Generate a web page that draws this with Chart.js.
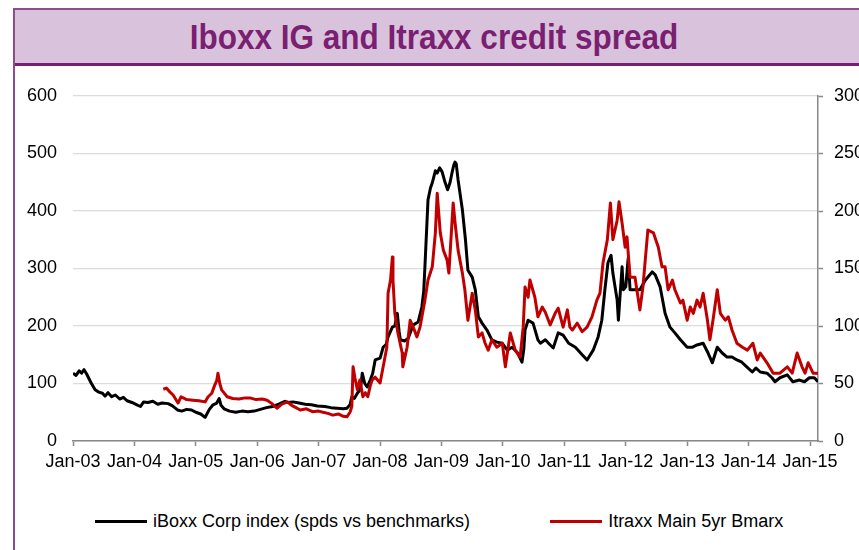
<!DOCTYPE html>
<html>
<head>
<meta charset="utf-8">
<title>Iboxx IG and Itraxx credit spread</title>
<script src="https://cdn.jsdelivr.net/npm/chart.js@4.4.0/dist/chart.umd.min.js"></script>
<style>
  html, body { margin: 0; padding: 0; overflow: hidden; background: #fff; }
  body { width: 859px; height: 550px; position: relative; font-family: "Liberation Sans", Arial, sans-serif; }
  #frame { position: absolute; left: 13px; top: 8px; width: 900px; height: 560px;
           border-left: 2px solid #8e4a8a; border-top: 2px solid #8e4a8a; }
  #banner { position: absolute; left: 15px; top: 10px; width: 900px; height: 53px;
            background: #d9c3dc; border-bottom: 3px solid #7b1f72; }
  #banner h1 { margin: 0; width: 838px; text-align: center; line-height: 53px;
               font-size: 35px; font-weight: bold; color: #7b1f72;
               transform: scaleX(0.9); transform-origin: 419px 50%; }
  #chart { position: absolute; left: 15px; top: 66px; }
  #legend { position: absolute; left: 95px; top: 511px; display: flex; align-items: center;
            font-size: 18px; color: #000; white-space: nowrap; }
  #legend .item { display: flex; align-items: center; }
  #legend .item + .item { margin-left: 80px; }
  #legend .swatch { width: 52px; height: 3px; margin-right: 6px; }
</style>
</head>
<body>
<div id="frame"></div>
<div id="banner"><h1>Iboxx IG and Itraxx credit spread</h1></div>
<canvas id="chart" width="880" height="420"></canvas>
<div id="legend"></div>
<script>
// iBoxx corporate spread (bp, left axis) - dates as decimal years
const iboxxDates = [
  2003.00, 2003.05, 2003.10, 2003.14, 2003.18, 2003.22, 2003.30, 2003.36, 2003.42, 2003.48,
  2003.52, 2003.57, 2003.63, 2003.69, 2003.76, 2003.82, 2003.88, 2003.96, 2004.04, 2004.10,
  2004.15, 2004.22, 2004.30, 2004.38, 2004.45, 2004.55, 2004.62, 2004.70, 2004.77, 2004.85,
  2004.93, 2005.00, 2005.08, 2005.15, 2005.22, 2005.28, 2005.34, 2005.38, 2005.41, 2005.46,
  2005.55, 2005.65, 2005.75, 2005.85, 2005.95, 2006.05, 2006.15, 2006.25, 2006.35, 2006.45,
  2006.50, 2006.58, 2006.68, 2006.78, 2006.88, 2006.98, 2007.10, 2007.20, 2007.30, 2007.40,
  2007.46, 2007.51, 2007.54, 2007.58, 2007.63, 2007.68, 2007.71, 2007.75, 2007.79, 2007.84,
  2007.88, 2007.92, 2008.00, 2008.05, 2008.10, 2008.13, 2008.20, 2008.24, 2008.28, 2008.31,
  2008.33, 2008.40, 2008.46, 2008.54, 2008.62, 2008.68, 2008.71, 2008.73, 2008.78, 2008.82,
  2008.85, 2008.90, 2008.93, 2008.97, 2009.01, 2009.06, 2009.10, 2009.14, 2009.17, 2009.20,
  2009.22, 2009.24, 2009.27, 2009.34, 2009.39, 2009.43, 2009.50, 2009.55, 2009.60, 2009.66,
  2009.74, 2009.82, 2009.90, 2009.99, 2010.07, 2010.15, 2010.24, 2010.31, 2010.34, 2010.36,
  2010.41, 2010.49, 2010.57, 2010.61, 2010.69, 2010.77, 2010.82, 2010.90, 2010.98, 2011.07,
  2011.18, 2011.29, 2011.37, 2011.47, 2011.55, 2011.61, 2011.66, 2011.71, 2011.76, 2011.79,
  2011.86, 2011.88, 2011.91, 2011.94, 2011.96, 2012.00, 2012.04, 2012.07, 2012.15, 2012.23,
  2012.32, 2012.43, 2012.48, 2012.56, 2012.64, 2012.72, 2012.80, 2012.89, 2013.00, 2013.08,
  2013.16, 2013.26, 2013.34, 2013.41, 2013.49, 2013.57, 2013.65, 2013.73, 2013.81, 2013.89,
  2013.97, 2014.06, 2014.12, 2014.19, 2014.30, 2014.38, 2014.43, 2014.51, 2014.63, 2014.72,
  2014.83, 2014.91, 2014.99, 2015.07, 2015.13
];
const iboxxSpread = [
  118, 114, 122, 118, 124, 117, 100, 89, 85, 83,
  78, 84, 77, 80, 73, 76, 70, 67, 63, 60,
  68, 67, 69, 64, 66, 65, 61, 54, 52, 55,
  54, 50, 47, 41, 55, 63, 66, 74, 62, 56,
  52, 50, 52, 51, 52, 55, 58, 60, 64, 69,
  67, 68, 66, 64, 63, 61, 60, 58, 57, 56,
  57, 63, 77, 74, 83, 90, 118, 100, 94, 106,
  118, 141, 144, 163, 168, 181, 198, 200, 222, 190,
  176, 174, 179, 202, 207, 233, 260, 303, 419, 440,
  449, 470, 466, 475, 468, 449, 437, 450, 466, 480,
  485, 482, 454, 402, 350, 297, 285, 263, 216, 205,
  193, 176, 172, 170, 158, 163, 153, 137, 160, 193,
  210, 205, 176, 170, 176, 167, 162, 188, 184, 170,
  163, 150, 141, 158, 181, 210, 263, 310, 323, 292,
  245, 210, 257, 303, 263, 268, 318, 263, 263, 263,
  280, 294, 289, 268, 222, 198, 188, 176, 163, 163,
  167, 170, 153, 136, 163, 153, 146, 146, 141, 137,
  129, 120, 127, 120, 118, 110, 103, 110, 115, 103,
  106, 103, 110, 110, 103
];

// iTraxx Main 5yr (bp, right axis)
const itraxxDates = [
  2004.47, 2004.52, 2004.58, 2004.63, 2004.71, 2004.76, 2004.85, 2004.95, 2005.05, 2005.15,
  2005.20, 2005.26, 2005.30, 2005.34, 2005.36, 2005.39, 2005.42, 2005.51, 2005.60, 2005.70,
  2005.80, 2005.88, 2005.98, 2006.08, 2006.16, 2006.24, 2006.32, 2006.40, 2006.49, 2006.56,
  2006.63, 2006.70, 2006.80, 2006.90, 2007.00, 2007.07, 2007.15, 2007.23, 2007.32, 2007.40,
  2007.46, 2007.51, 2007.54, 2007.56, 2007.59, 2007.63, 2007.67, 2007.72, 2007.76, 2007.80,
  2007.84, 2007.87, 2007.92, 2008.00, 2008.05, 2008.11, 2008.13, 2008.17, 2008.20, 2008.21,
  2008.24, 2008.29, 2008.36, 2008.37, 2008.44, 2008.49, 2008.54, 2008.60, 2008.65, 2008.73,
  2008.78, 2008.85, 2008.90, 2008.93, 2008.98, 2009.03, 2009.09, 2009.12, 2009.19, 2009.22,
  2009.27, 2009.34, 2009.38, 2009.43, 2009.50, 2009.55, 2009.60, 2009.66, 2009.71, 2009.76,
  2009.82, 2009.90, 2009.99, 2010.04, 2010.12, 2010.20, 2010.28, 2010.33, 2010.36, 2010.41,
  2010.44, 2010.52, 2010.57, 2010.64, 2010.69, 2010.77, 2010.85, 2010.90, 2010.98, 2011.05,
  2011.09, 2011.13, 2011.21, 2011.29, 2011.37, 2011.45, 2011.53, 2011.58, 2011.63, 2011.70,
  2011.75, 2011.79, 2011.86, 2011.89, 2011.94, 2011.99, 2012.02, 2012.07, 2012.15, 2012.23,
  2012.28, 2012.36, 2012.45, 2012.53, 2012.59, 2012.64, 2012.69, 2012.76, 2012.80, 2012.89,
  2012.93, 2013.00, 2013.05, 2013.10, 2013.16, 2013.21, 2013.26, 2013.33, 2013.37, 2013.42,
  2013.49, 2013.54, 2013.62, 2013.67, 2013.73, 2013.81, 2013.90, 2013.98, 2014.07, 2014.14,
  2014.19, 2014.30, 2014.40, 2014.51, 2014.63, 2014.71, 2014.79, 2014.87, 2014.92, 2014.97,
  2015.05, 2015.13
];
const itraxxSpread = [
  45, 46, 42.5, 40, 33, 38.5, 36, 35.5, 35, 34,
  38.5, 41.5, 47.5, 52.5, 59, 50, 44.5, 38.5, 37, 36.5,
  37.5, 37.5, 36, 36.5, 35.5, 32.5, 28.5, 32, 34, 31,
  29, 27, 28, 25.5, 26, 25, 24, 22.5, 23.5, 21.5,
  21, 25, 30, 64.5, 55, 44.5, 53, 38.5, 42, 38.5,
  48, 53, 55.5, 50.5, 64.5, 81.5, 128.5, 140, 160, 140,
  111, 94, 76.5, 64.5, 81.5, 105, 99, 90.5, 99, 122.5,
  140, 151.5, 181, 215.5, 181, 166, 157.5, 146, 207, 190,
  166, 146, 131.5, 105, 128.5, 114, 90.5, 94, 85, 79,
  88, 81.5, 85, 64.5, 94, 79, 73, 99, 134, 125,
  140, 125, 108, 116.5, 112, 101, 111, 115.5, 99, 114,
  99, 96.5, 102.5, 95, 99, 108, 122.5, 128.5, 155, 175,
  207, 175, 192, 208, 189.5, 168.5, 177.5, 142.5, 142.5, 114,
  134, 183.5, 181, 168.5, 151.5, 151.5, 131.5, 140, 131.5, 120,
  122.5, 105, 116.5, 111, 122.5, 116.5, 128.5, 105, 88, 105,
  131.5, 111, 105, 108, 96.5, 85, 81.5, 79, 85, 70.5,
  76.5, 68, 59, 59, 64.5, 59, 76.5, 64.5, 59, 68,
  59, 59
];

const leftTicks = [0, 100, 200, 300, 400, 500, 600];
const rightTicks = [0, 50, 100, 150, 200, 250, 300];
const firstYear = 2003;
const lastYear = 2015;

const seriesNames = ['iBoxx Corp index (spds vs benchmarks)', 'Itraxx Main 5yr Bmarx'];
const seriesColors = ['#000000', '#c00000'];

function toPoints(dates, values) {
  return dates.map((d, i) => ({ x: d, y: values[i] }));
}

function yearLabel(v) {
  return 'Jan-' + String(v % 100).padStart(2, '0');
}

Chart.defaults.font.family = '"Liberation Sans", Arial, sans-serif';
Chart.defaults.font.size = 18;
Chart.defaults.color = '#000';

const ctx = document.getElementById('chart').getContext('2d');
const chart = new Chart(ctx, {
  type: 'line',
  data: {
    datasets: [
      {
        label: seriesNames[0],
        data: toPoints(iboxxDates, iboxxSpread),
        borderColor: seriesColors[0],
        backgroundColor: seriesColors[0],
        borderWidth: 3,
        yAxisID: 'y',
        order: 2
      },
      {
        label: seriesNames[1],
        data: toPoints(itraxxDates, itraxxSpread),
        borderColor: seriesColors[1],
        backgroundColor: seriesColors[1],
        borderWidth: 3,
        yAxisID: 'y1',
        order: 1
      }
    ]
  },
  options: {
    responsive: false,
    animation: false,
    devicePixelRatio: 1,
    layout: { padding: { top: 30, left: 0, right: 0, bottom: 0 } },
    elements: { point: { radius: 0 }, line: { tension: 0, borderJoinStyle: 'round' } },
    plugins: { legend: { display: false }, tooltip: { enabled: false } },
    scales: {
      x: {
        type: 'linear',
        min: firstYear,
        max: lastYear + 0.13,
        afterBuildTicks: (s) => {
          s.ticks = [];
          for (let y = firstYear; y <= lastYear; y++) s.ticks.push({ value: y });
        },
        ticks: { callback: (v) => yearLabel(v), padding: 5, maxRotation: 0, autoSkip: false },
        grid: { drawOnChartArea: false, tickLength: 5, tickColor: '#888', tickWidth: 1.5 },
        border: { color: '#888', width: 1.5 },
        afterFit: (s) => { s.height = 45; }
      },
      y: {
        position: 'left',
        min: 0,
        max: 600,
        afterBuildTicks: (s) => { s.ticks = leftTicks.map(v => ({ value: v })); },
        ticks: { padding: 16 },
        grid: { color: '#dcdcdc', lineWidth: 1.2, drawTicks: false },
        border: { display: false },
        afterFit: (s) => { s.width = 58; }
      },
      y1: {
        position: 'right',
        min: 0,
        max: 300,
        afterBuildTicks: (s) => { s.ticks = rightTicks.map(v => ({ value: v })); },
        ticks: { padding: 11 },
        grid: { drawOnChartArea: false, tickLength: 5, tickColor: '#888', tickWidth: 1.5 },
        border: { color: '#888', width: 1.5 },
        afterFit: (s) => { s.width = 77; }
      }
    }
  }
});

// legend built from the chart's own datasets
const legendEl = document.getElementById('legend');
chart.data.datasets.forEach((ds) => {
  const item = document.createElement('div');
  item.className = 'item';
  const sw = document.createElement('span');
  sw.className = 'swatch';
  sw.style.background = ds.borderColor;
  const txt = document.createElement('span');
  txt.textContent = ds.label;
  item.appendChild(sw);
  item.appendChild(txt);
  legendEl.appendChild(item);
});
</script>
</body>
</html>
